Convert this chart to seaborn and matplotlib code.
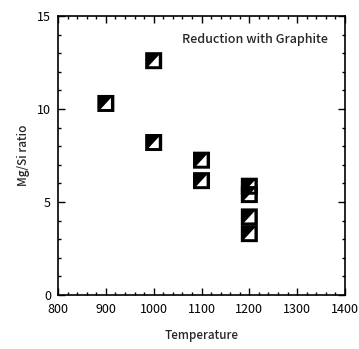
import matplotlib
matplotlib.use("Agg")
import matplotlib.pyplot as plt
import seaborn as sns
import pandas as pd
import numpy as np
from matplotlib.path import Path
from matplotlib.ticker import MultipleLocator

temperature = [900, 1000, 1000, 1100, 1100, 1200, 1200, 1200, 1200]
mg_si_ratio = [10.3, 12.6, 8.2, 7.25, 6.15, 5.85, 5.4, 4.2, 3.3]

df = pd.DataFrame({"Temperature": temperature, "Mg/Si ratio": mg_si_ratio})

sns.set_style("ticks")
plt.rcParams['font.family'] = ['Noto Sans CJK JP', 'DejaVu Sans']

# marker: black square with white triangle hole
outer = [(-1, -1), (1, -1), (1, 1), (-1, 1), (-1, -1)]
tri = [(-0.6, -0.65), (0.6, 0.65), (0.6, -0.65), (-0.6, -0.65)]
verts = outer + tri
codes = [Path.MOVETO] + [Path.LINETO] * 3 + [Path.CLOSEPOLY] + \
        [Path.MOVETO] + [Path.LINETO] * 2 + [Path.CLOSEPOLY]
mpath = Path(verts, codes)

fig = plt.figure(figsize=(3.59, 3.49), dpi=100)
ax = fig.add_axes([0.1616, 0.1547, 0.7994, 0.7993])

sns.scatterplot(data=df, x="Temperature", y="Mg/Si ratio", marker=mpath,
                s=150, color="black", edgecolor="none", linewidth=0, ax=ax)

ax.set_xlim(800, 1400)
ax.set_ylim(0, 15)
ax.xaxis.set_major_locator(MultipleLocator(100))
ax.xaxis.set_minor_locator(MultipleLocator(20))
ax.yaxis.set_major_locator(MultipleLocator(5))
ax.yaxis.set_minor_locator(MultipleLocator(1))
ax.tick_params(which="both", direction="in", top=True, right=True,
               labelsize=9, width=1, color="black", labelcolor="black")
ax.tick_params(which="major", length=5)
ax.tick_params(axis="x", which="major", pad=6)
ax.tick_params(axis="y", which="major", pad=5)
ax.tick_params(which="minor", length=2.5)
for sp in ax.spines.values():
    sp.set_visible(True)
    sp.set_linewidth(1.2)
    sp.set_color("black")

ax.set_xlabel("Temperature", fontsize=8.5, labelpad=9, fontweight="medium")
ax.set_ylabel("Mg/Si ratio", fontsize=8.5, labelpad=5, fontweight="medium")
ax.text(0.94, 0.915, "Reduction with Graphite", transform=ax.transAxes,
        ha="right", va="center", fontsize=9, fontweight="medium")

fig.savefig("out.png", dpi=100)
